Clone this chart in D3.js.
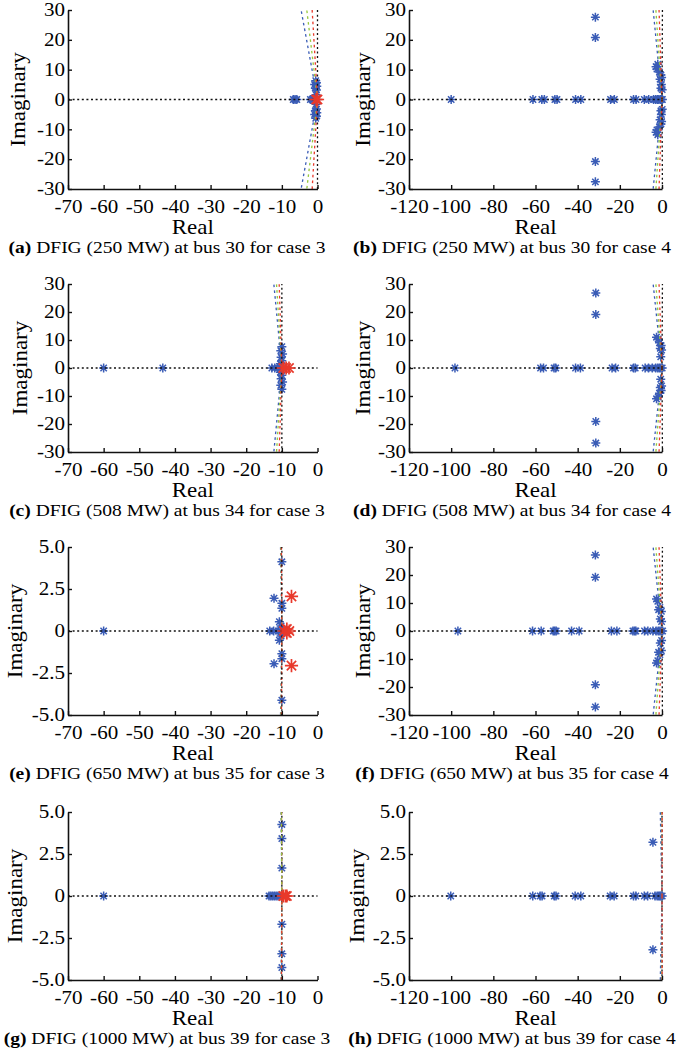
<!DOCTYPE html>
<html><head><meta charset="utf-8">
<script src="https://cdn.jsdelivr.net/npm/d3@7"></script>
<style>
html,body{margin:0;padding:0;background:#fff;}
svg{display:block;}
text{font-family:"Liberation Serif","Times New Roman",serif;fill:#000;}
</style></head><body>
<svg id="chart" width="685" height="1056"></svg>
<script>
// ------------------ DATA ------------------
const captionLetters = ["(a)","(b)","(c)","(d)","(e)","(f)","(g)","(h)"];
const captionTexts = [
  " DFIG (250 MW) at bus 30 for case 3",
  " DFIG (250 MW) at bus 30 for case 4",
  " DFIG (508 MW) at bus 34 for case 3",
  " DFIG (508 MW) at bus 34 for case 4",
  " DFIG (650 MW) at bus 35 for case 3",
  " DFIG (650 MW) at bus 35 for case 4",
  " DFIG (1000 MW) at bus 39 for case 3",
  " DFIG (1000 MW) at bus 39 for case 4"
];
const xLabel = "Real";
const yLabel = "Imaginary";

const xTicksCase3 = [-70,-60,-50,-40,-30,-20,-10,0];
const xTickLabelsCase3 = ["-70","-60","-50","-40","-30","-20","-10","0"];
const xTicksCase4 = [-120,-100,-80,-60,-40,-20,0];
const xTickLabelsCase4 = ["-120","-100","-80","-60","-40","-20","0"];
const yTicksWide = [-30,-20,-10,0,10,20,30];
const yTickLabelsWide = ["-30","-20","-10","0","10","20","30"];
const yTicksNarrow = [-5,-2.5,0,2.5,5];
const yTickLabelsNarrow = ["-5.0","-2.5","0","2.5","5.0"];

// eigenvalues [real, imag]
const blueA = [[-6.8,0],[-6.3,0],[-5.8,0],[-2.0,0],[-1.5,0],[-1.0,0],[-0.5,0],[-0.2,0],
  [-0.5,6.3],[-0.3,5.6],[-0.8,5.0],[-0.2,4.4],[-0.6,3.8],[-0.3,3.2],[-0.4,1.6],
  [-0.5,-6.3],[-0.3,-5.6],[-0.8,-5.0],[-0.2,-4.4],[-0.6,-3.8],[-0.3,-3.2],[-0.4,-1.6]];
const redA = [[-0.4,0],[0,0]];

const blueB = [[-100,0],[-61.2,0],[-57,0],[-55.8,0],[-50.8,0],[-49.8,0],[-41,0],[-38.5,0],[-24.4,0],[-22.6,0],
  [-13.5,0],[-12.3,0],[-8.4,0],[-6.3,0],[-4.0,0],[-3.0,0],[-2.2,0],[-1.5,0],[-0.8,0],[-0.3,0],[0.2,0],
  [-31.6,27.6],[-31.6,20.8],[-31.6,-20.8],[-31.6,-27.6],
  [-2.8,11.0],[-2.0,11.8],[-2.4,10.2],[-1.2,9.2],[-0.5,8.2],[-0.2,7.4],[-0.9,6.8],[-0.3,5.0],[-0.5,3.8],[0.1,3.3],
  [-2.8,-11.0],[-2.0,-11.8],[-2.4,-10.2],[-1.2,-9.2],[-0.5,-8.2],[-0.2,-7.4],[-0.9,-6.8],[-0.3,-5.0],[-0.5,-3.8],[0.1,-3.3]];
const redB = [];

const blueC = [[-60,0],[-43.4,0],[-12.8,0],[-12.0,0],[-11.2,0],[-10.6,0],
  [-10,7.6],[-10.3,6.2],[-9.8,5.0],[-10.2,3.8],[-10,2.6],[-10.4,1.5],[-10.1,0.7],
  [-10,-7.6],[-10.3,-6.2],[-9.8,-5.0],[-10.2,-3.8],[-10,-2.6],[-10.4,-1.5],[-10.1,-0.7]];
const redC = [[-9.6,0],[-8.8,0],[-8.0,0]];

const blueD = [[-98.2,0],[-57.6,0],[-56.2,0],[-51.2,0],[-50.4,0],[-41,0],[-38.7,0],[-23.7,0],[-22,0],
  [-13.5,0],[-12.7,0],[-8,0],[-6.4,0],[-4.6,0],[-3,0],[-2,0],[-1.2,0],[-0.5,0],[0.1,0],
  [-31.4,26.8],[-31.4,19.1],[-31.4,-19.1],[-31.4,-26.8],
  [-2.6,11.0],[-1.8,10.4],[-1.2,9.0],[-0.4,8.0],[-0.8,7.0],[-0.2,6.4],[-0.6,4.0],
  [-2.6,-11.0],[-1.8,-10.4],[-1.2,-9.0],[-0.4,-8.0],[-0.8,-7.0],[-0.2,-6.4],[-0.6,-4.0]];
const redD = [];

const blueE = [[-60,0],[-13.4,0],[-12.3,0],[-11.0,0],[-10.4,0],
  [-10,4.12],[-12.2,1.95],[-10,1.65],[-10,1.35],[-10.7,0.55],[-10.2,0.3],
  [-10,-4.12],[-12.2,-1.95],[-10,-1.65],[-10,-1.35],[-10.7,-0.55],[-10.2,-0.3]];
const redE = [[-7.3,2.06],[-7.3,-2.06],[-9.4,0],[-8.6,0.12],[-8.6,-0.12],[-7.9,0]];

const blueF = [[-96.8,0],[-61.4,0],[-57.3,0],[-51.6,0],[-50.9,0],[-50.2,0],[-42.9,0],[-39.3,0],[-24,0],[-21.4,0],
  [-13.8,0],[-13.0,0],[-12.4,0],[-8.3,0],[-6.7,0],[-4.3,0],[-2.8,0],[-1.8,0],[-1.0,0],[-0.3,0],[0.3,0],
  [-31.6,27.1],[-31.6,19.2],[-31.6,-19.2],[-31.6,-27.1],
  [-2.6,11.4],[-2.0,10.6],[-1.0,8.4],[-1.6,7.6],[-0.3,7.0],[-0.8,4.3],[-0.2,3.4],
  [-2.6,-11.4],[-2.0,-10.6],[-1.0,-8.4],[-1.6,-7.6],[-0.3,-7.0],[-0.8,-4.3],[-0.2,-3.4]];
const redF = [];

const blueG = [[-60,0],[-13.6,0],[-13.1,0],[-12.6,0],[-12.1,0],[-11.6,0],[-11.1,0],[-10.6,0],
  [-10,4.26],[-10,3.42],[-10,1.66],[-10,-1.68],[-10,-3.44],[-10,-4.26]];
const redG = [[-9.6,0],[-9.0,0],[-8.6,0]];

const blueH = [[-100.2,0],[-61.3,0],[-57.8,0],[-56.9,0],[-51.1,0],[-50.3,0],[-41.2,0],[-38.5,0],[-24.6,0],[-22.7,0],
  [-13.5,0],[-12.4,0],[-8.4,0],[-6.8,0],[-3.3,0],[-2.3,0],[-1.6,0],[-1.0,0],[-0.5,0],[0.1,0],
  [-4.3,3.2],[-4.3,-3.2]];
const redH = [];

// damping-ratio guide lines: origin real part, and real part at |imag| = axis limit
// order of values: black, red, green, blue
const dampOrigin = [0, 0, -10, 0, -10, 0, -10, 0];
const dampA = [0, -1.5, -3.0, -4.6];
const dampB = [0.2, -1.4, -2.9, -4.2];
const dampC = [-10, -10.75, -11.5, -12.25];
const dampD = [0.2, -1.4, -2.9, -4.2];
const dampE = [-10, -10.12, -10.25, -10.37];
const dampF = [0.2, -1.4, -2.9, -4.2];
const dampG = [-10, -10.1, -10.15, -10.2];
const dampH = [0, 0.1, -0.4, -0.8];

// ------------------ STYLE / LAYOUT ------------------
const colBlack = "#111", colRed = "#e8392b", colGreen = "#96c83c", colBlue = "#3a5cb6";
const dampColors = [colBlack, colRed, colGreen, colBlue];
const cols = [{x0:68, x1:317.5, capX:167, ylabX:[25,27,22,22]}, {x0:409, x1:662, capX:512, ylabX:[370,370,370,364]}];
const rows = [{y0:10,y1:189},{y0:284,y1:452},{y0:547,y1:715},{y0:812,y1:980}];

const panels = [
  {blue:blueA, red:redA, damp:dampA, case:3, yWide:true,  orderUp:[3,2,1,0], orderDn:[3,2,1,0]},
  {blue:blueB, red:redB, damp:dampB, case:4, yWide:true,  orderUp:[3,2,1,0], orderDn:[3,2,1,0]},
  {blue:blueC, red:redC, damp:dampC, case:3, yWide:true,  orderUp:[3,2,1,0], orderDn:[3,2,1,0]},
  {blue:blueD, red:redD, damp:dampD, case:4, yWide:true,  orderUp:[3,2,1,0], orderDn:[3,2,1,0]},
  {blue:blueE, red:redE, damp:dampE, case:3, yWide:false, orderUp:[3,2,1,0], orderDn:[3,2,1,0]},
  {blue:blueF, red:redF, damp:dampF, case:4, yWide:true,  orderUp:[3,2,1,0], orderDn:[3,2,1,0]},
  {blue:blueG, red:redG, damp:dampG, case:3, yWide:false, orderUp:[0,3,1,2], orderDn:[0,3,2,1]},
  {blue:blueH, red:redH, damp:dampH, case:4, yWide:false, orderUp:[0,2,3,1], orderDn:[0,2,3,1]}
];

const svg = d3.select("#chart");
const TICK_FS = 18, LAB_FS = 20, CAP_FS = 16, SX = 1.17;

function stretch(sel, s){
  sel.each(function(){
    const t = d3.select(this);
    const x = +(t.attr("x") || 0);
    t.attr("transform", `translate(${x},0) scale(${s},1) translate(${-x},0)`);
  });
}
function asterisk(r){
  const d = r*0.7071;
  return `M${-r},0L${r},0M0,${-r}L0,${r}M${-d},${-d}L${d},${d}M${-d},${d}L${d},${-d}`;
}

panels.forEach((p, i) => {
  const ci = i % 2, ri = Math.floor(i/2);
  const c = cols[ci], r = rows[ri];
  const xDom = p.case === 3 ? [-70, 0] : [-120, 0];
  const yLim = p.yWide ? 30 : 5;
  const x = d3.scaleLinear().domain(xDom).range([c.x0, c.x1]);
  const y = d3.scaleLinear().domain([-yLim, yLim]).range([r.y1, r.y0]);
  const g = svg.append("g");

  // blue eigenvalues
  g.append("g").selectAll("path").data(p.blue).join("path")
    .attr("d", asterisk(4.5))
    .attr("transform", d => `translate(${x(d[0])},${y(d[1])})`)
    .attr("fill","none").attr("stroke", colBlue).attr("stroke-width", 1.5);

  // real axis dotted line
  g.append("line").attr("x1", x(xDom[0])).attr("x2", x(0)).attr("y1", y(0)).attr("y2", y(0))
    .attr("stroke", colBlack).attr("stroke-width", 1.4).attr("stroke-dasharray", "2,2.6");

  // damping lines
  const x0 = dampOrigin[i];
  p.orderUp.forEach(k => {
    g.append("line").attr("x1", x(x0)).attr("y1", y(0)).attr("x2", x(p.damp[k])).attr("y2", y(yLim))
      .attr("stroke", dampColors[k]).attr("stroke-width", 1.3)
      .attr("stroke-dasharray", k === 0 ? "2,2.6" : "2.6,3.2");
  });
  p.orderDn.forEach(k => {
    g.append("line").attr("x1", x(x0)).attr("y1", y(0)).attr("x2", x(p.damp[k])).attr("y2", y(-yLim))
      .attr("stroke", dampColors[k]).attr("stroke-width", 1.3)
      .attr("stroke-dasharray", k === 0 ? "2,2.6" : "2.6,3.2");
  });

  // red eigenvalues
  g.append("g").selectAll("path").data(p.red).join("path")
    .attr("d", asterisk(6.6))
    .attr("transform", d => `translate(${x(d[0])},${y(d[1])})`)
    .attr("fill","none").attr("stroke", colRed).attr("stroke-width", 1.7);

  // axes
  const xt = p.case === 3 ? xTicksCase3 : xTicksCase4;
  const xl = p.case === 3 ? xTickLabelsCase3 : xTickLabelsCase4;
  const yt = p.yWide ? yTicksWide : yTicksNarrow;
  const yl = p.yWide ? yTickLabelsWide : yTickLabelsNarrow;
  const xAxis = d3.axisBottom(x).tickValues(xt).tickFormat((d,j) => xl[j])
    .tickSizeInner(-4).tickSizeOuter(0).tickPadding(11);
  const yAxis = d3.axisLeft(y).tickValues(yt).tickFormat((d,j) => yl[j])
    .tickSizeInner(-4).tickSizeOuter(0).tickPadding(3);
  const gx = g.append("g").attr("transform", `translate(0,${r.y1})`).call(xAxis);
  const gy = g.append("g").attr("transform", `translate(${c.x0},0)`).call(yAxis);
  [gx, gy].forEach(ga => {
    ga.attr("font-family", null).attr("font-size", null);
    ga.select(".domain").attr("stroke", "#111").attr("stroke-width", 1.6);
    ga.selectAll(".tick line").attr("stroke", "#111").attr("stroke-width", 1.4);
    ga.selectAll(".tick text").attr("fill", "#000").style("font-family", '"Liberation Serif", serif').style("font-size", TICK_FS + "px");
    stretch(ga.selectAll(".tick text"), SX);
  });

  // axis labels
  const xlab = g.append("text").attr("x", (c.x0 + c.x1)/2).attr("y", r.y1 + 45)
    .attr("text-anchor", "middle").style("font-size", LAB_FS + "px").text(xLabel);
  stretch(xlab, 1.15);
  const yg = g.append("g").attr("transform", `translate(${c.ylabX[ri]},${(r.y0 + r.y1)/2}) rotate(-90)`);
  const ylab = yg.append("text").attr("x", 0).attr("y", 0).attr("text-anchor", "middle")
    .style("font-size", LAB_FS + "px").text(yLabel);
  stretch(ylab, 1.15);

  // caption
  const cap = g.append("text").attr("x", c.capX).attr("y", r.y1 + 64).attr("text-anchor", "middle")
    .style("font-size", CAP_FS + "px");
  cap.append("tspan").attr("font-weight", "bold").text(captionLetters[i]);
  cap.append("tspan").text(captionTexts[i]);
  stretch(cap, 1.22);
});
</script>
</body></html>
